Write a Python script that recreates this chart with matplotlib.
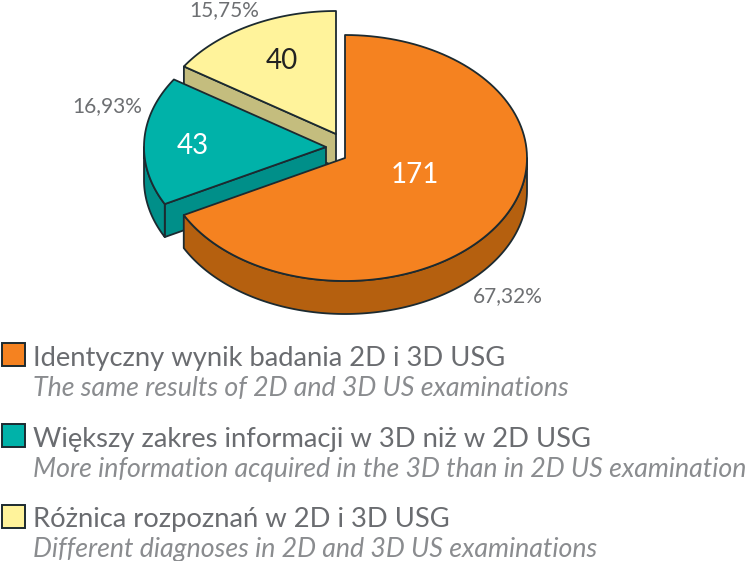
import numpy as np
import matplotlib
matplotlib.use('Agg')
import matplotlib.pyplot as plt
from matplotlib.patches import Polygon, Rectangle

plt.rcParams['font.family'] = ['Lato', 'DejaVu Sans']

# Data
counts = [171, 43, 40]
percents = ['67,32%', '16,93%', '15,75%']
names_pl = ['Identyczny wynik badania 2D i 3D USG',
            'Większy zakres informacji w 3D niż w 2D USG',
            'Różnica rozpoznań w 2D i 3D USG']
names_en = ['The same results of 2D and 3D US examinations',
            'More information acquired in the 3D than in 2D US examination',
            'Different diagnoses in 2D and 3D US examinations']

# Styles and layout (pixels)
top_colors = ['#f58220', '#00b2a9', '#fff39b']
side_colors = ['#b5600f', '#008f89', '#c4bd7e']
count_colors = ['white', 'white', '#222222']
edge = '#1c2a30'
apexes = [(345, 158), (326, 147), (336, 134)]
rx, ry, depth = 182, 123, 33
count_pos = [(415, 175), (193, 146), (282, 61)]
percent_pos = [(508, 296), (107, 106), (224, 10)]
legend_y = [343, 424, 505]

fig = plt.figure(figsize=(7.5, 5.61), dpi=100)
ax = fig.add_axes([0, 0, 1, 1])
ax.set_xlim(0, 750)
ax.set_ylim(561, 0)
ax.axis('off')


def rim(apex, a0, a1):
    # points of the ellipse, angle in degrees clockwise from the top
    t = np.radians(np.linspace(a0, a1, 120))
    return np.column_stack([apex[0] + rx*np.sin(t), apex[1] - ry*np.cos(t)])


def draw_slice(i, start, stop):
    apex = np.array(apexes[i], dtype=float)
    down = np.array([0, depth])
    arc = rim(apex, start, stop)
    # cut face on the start side, seen only when it faces the viewer
    if start > 180:
        p = arc[0]
        ax.add_patch(Polygon([p, apex, apex+down, p+down], fc=side_colors[i], ec=edge, lw=1.3, joinstyle='round'))
    # visible part of the outer wall: angles between 90 and 270
    lo, hi = max(start, 90), min(stop, 270)
    if lo < hi:
        wall = rim(apex, lo, hi)
        ax.add_patch(Polygon(np.vstack([wall, wall[::-1]+down]), fc=side_colors[i], ec=edge, lw=1.3, joinstyle='round'))
    ax.add_patch(Polygon(np.vstack([apex, arc]), fc=top_colors[i], ec=edge, lw=1.3, joinstyle='round'))


angles = np.concatenate([[0], np.cumsum(counts) / np.sum(counts) * 360])
for i in [2, 1, 0]:
    draw_slice(i, angles[i], angles[i+1])

for i in range(3):
    ax.text(*count_pos[i], str(counts[i]), color=count_colors[i], fontsize=20, ha='center', va='center')
    ax.text(*percent_pos[i], percents[i], color='#6d6f72', fontsize=15, ha='center', va='center')
    ax.add_patch(Rectangle((1.5, legend_y[i]), 23, 23, fc=top_colors[i], ec=edge, lw=1.4))
    ax.text(33, legend_y[i]+15, names_pl[i], color='#6a6c70', fontsize=19.7, ha='left', va='center')
    ax.text(33, legend_y[i]+45, names_en[i], color='#8a8c8f', fontsize=19.3, style='italic', ha='left', va='center')

fig.savefig('out.png', dpi=100)
